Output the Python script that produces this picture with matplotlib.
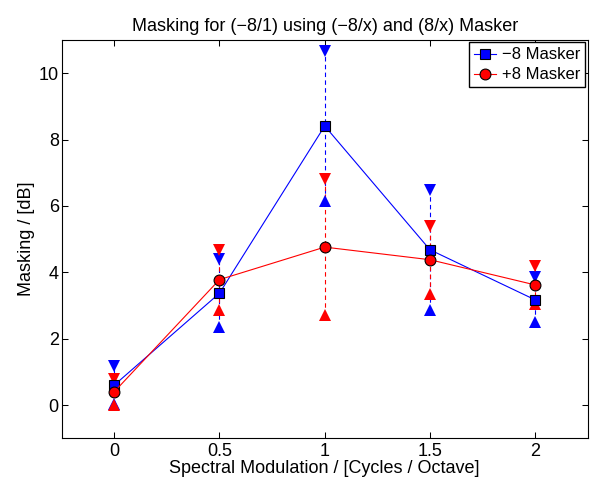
import numpy as np
import matplotlib
matplotlib.use("Agg")
import matplotlib.pyplot as plt

plt.rcParams['font.family'] = ['Liberation Sans', 'DejaVu Sans']
plt.rcParams['font.size'] = 13

# spectral modulation (cycles / octave)
x = [0, 0.5, 1, 1.5, 2]

# -8 masker: mean masking and error half-width (dB)
neg_mean = [0.60, 3.37, 8.41, 4.68, 3.17]
neg_err = [0.57, 1.02, 2.25, 1.80, 0.68]

# +8 masker
pos_mean = [0.40, 3.78, 4.76, 4.38, 3.62]
pos_err = [0.40, 0.90, 2.05, 1.02, 0.57]

blue = '#0000ff'
red = '#ff0000'

fig = plt.figure(figsize=(5.92, 4.79), dpi=100)
ax = fig.add_axes([0.104, 0.085, 0.889, 0.8315])

# error bars: dashed lines with triangle ends
for m, e, c in [(neg_mean, neg_err, blue), (pos_mean, pos_err, red)]:
    m = np.array(m)
    e = np.array(e)
    ax.vlines(x, m - e, m + e, colors=c, linestyles=(0, (4, 3)), linewidth=0.8, zorder=1)
    ax.plot(x, m + e, 'v', color=c, markersize=8.5, markeredgewidth=0, zorder=2)
    ax.plot(x, m - e, '^', color=c, markersize=8.5, markeredgewidth=0, zorder=2)

ax.plot(x, neg_mean, '-s', color=blue, linewidth=0.8, markersize=6.5,
        markerfacecolor=blue, markeredgecolor='k', markeredgewidth=0.8,
        label='\u22128 Masker', zorder=3)
ax.plot(x, pos_mean, '-o', color=red, linewidth=0.8, markersize=7.8,
        markerfacecolor=red, markeredgecolor='k', markeredgewidth=0.8,
        label='+8 Masker', zorder=4)

ax.set_xlim(-0.25, 2.25)
ax.set_ylim(-1, 11)
ax.set_xticks(x)
ax.set_xticklabels(['0', '0.5', '1', '1.5', '2'])
ax.set_yticks([0, 2, 4, 6, 8, 10])
ax.tick_params(direction='in', length=4, width=0.75, top=True, right=True, labelsize=13)
ax.tick_params(axis='x', pad=3.5)
ax.tick_params(axis='y', pad=2)
for s in ax.spines.values():
    s.set_linewidth(0.8)

ax.set_title('Masking for (\u22128/1) using (\u22128/x) and (8/x) Masker', fontsize=13, pad=6.5)
ax.set_xlabel('Spectral Modulation / [Cycles / Octave]', fontsize=13, labelpad=0)
ax.set_ylabel('Masking / [dB]', fontsize=13, labelpad=2.5)

leg = ax.legend(loc='upper right', fontsize=12, borderaxespad=0.15, handlelength=1.35,
                handletextpad=0.35, borderpad=0.3, labelspacing=0.3,
                fancybox=False, framealpha=1, edgecolor='k')
leg.get_frame().set_linewidth(1.0)

fig.savefig('out.png', dpi=100)
